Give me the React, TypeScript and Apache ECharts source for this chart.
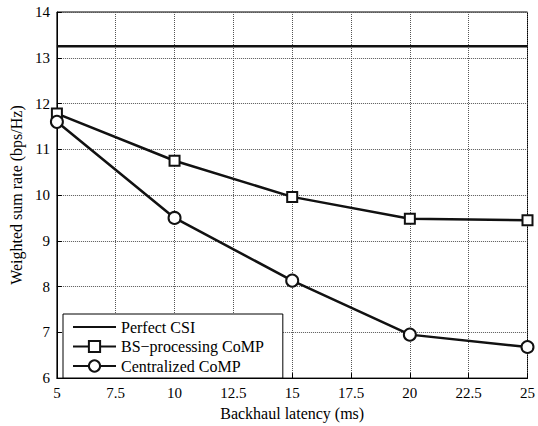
import React, { useEffect, useRef } from "react";
import * as echarts from "echarts";

const latency = [5, 10, 15, 20, 25];
const perfectCSI = [13.25, 13.25, 13.25, 13.25, 13.25];
const bsProcessing = [11.78, 10.75, 9.96, 9.48, 9.45];
const centralized = [11.6, 9.5, 8.13, 6.95, 6.68];

const FONT = "Times New Roman";

export default function App() {
  const ref = useRef<HTMLDivElement>(null);
  useEffect(() => {
    if (!ref.current) return;
    document.body.style.margin = "0";
    const chart = echarts.init(ref.current, undefined, { renderer: "svg" });
    const pair = (ys: number[]) => latency.map((x, i) => [x, ys[i]]);
    const lineStyle = { color: "#111", width: 2.5 };
    chart.setOption({
      animation: false,
      backgroundColor: "#fff",
      textStyle: { fontFamily: FONT },
      grid: {
        left: 56,
        right: 9,
        top: 12,
        bottom: 42,
        containLabel: false,
        show: true,
        borderColor: "#000",
        borderWidth: 1,
      },
      xAxis: {
        type: "value",
        min: 5,
        max: 25,
        interval: 2.5,
        axisLine: { lineStyle: { color: "#000", width: 1 } },
        axisTick: { inside: true, length: 5, lineStyle: { color: "#000" } },
        name: "Backhaul latency (ms)",
        nameLocation: "middle",
        nameGap: 26,
        nameTextStyle: { fontFamily: FONT, fontSize: 16, color: "#000" },
        axisLabel: { fontFamily: FONT, fontSize: 15, color: "#000", margin: 7 },
        splitLine: { show: true, lineStyle: { color: "#555", type: "dotted", width: 1 } },
      },
      yAxis: {
        type: "value",
        min: 6,
        max: 14,
        interval: 1,
        axisLine: { lineStyle: { color: "#000", width: 1 } },
        axisTick: { inside: true, length: 5, lineStyle: { color: "#000" } },
        name: "Weighted sum rate (bps/Hz)",
        nameLocation: "middle",
        nameGap: 29,
        nameTextStyle: { fontFamily: FONT, fontSize: 16, color: "#000" },
        axisLabel: { fontFamily: FONT, fontSize: 15, color: "#000", margin: 7 },
        splitLine: { show: true, lineStyle: { color: "#555", type: "dotted", width: 1 } },
      },
      legend: {
        left: 63,
        top: 314,
        orient: "vertical",
        itemWidth: 43,
        itemHeight: 14,
        itemGap: 3.5,
        padding: [5, 19, 4, 9],
        borderColor: "#000",
        borderWidth: 1,
        backgroundColor: "#fff",
        textStyle: { fontFamily: FONT, fontSize: 16, color: "#000" },
        data: [
          { name: "Perfect CSI", itemStyle: { opacity: 0 } },
          { name: "BS\u2212processing CoMP" },
          { name: "Centralized CoMP" },
        ],
      },
      series: [
        {
          name: "Perfect CSI",
          type: "line",
          data: pair(perfectCSI),
          symbol: "none",
          lineStyle,
          itemStyle: { color: "#111" },
        },
        {
          name: "BS\u2212processing CoMP",
          type: "line",
          data: pair(bsProcessing),
          symbol: "rect",
          symbolSize: 10,
          lineStyle,
          itemStyle: { color: "#fff", borderColor: "#111", borderWidth: 2 },
        },
        {
          name: "Centralized CoMP",
          type: "line",
          data: pair(centralized),
          symbol: "circle",
          symbolSize: 12,
          lineStyle,
          itemStyle: { color: "#fff", borderColor: "#111", borderWidth: 2 },
        },
      ],
    });
    return () => chart.dispose();
  }, []);
  return <div ref={ref} style={{ width: 538, height: 426 }} />;
}
